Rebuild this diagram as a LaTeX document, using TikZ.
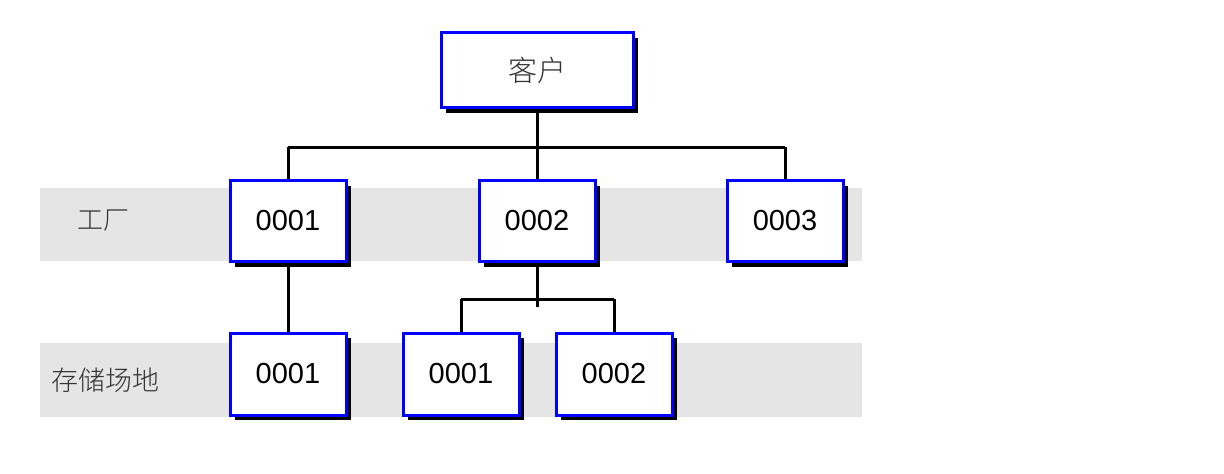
\documentclass[tikz,border=0pt]{standalone}
\usepackage{fontspec}
\setmainfont{Liberation Sans}
\newfontfamily\cjk{Noto Sans CJK SC Light}
\usetikzlibrary{shadows}
\begin{document}
\begin{tikzpicture}[x=1pt,y=-1pt,
  band/.style={fill=black!10,draw=none},
  conn/.style={line width=3pt,draw=black},
  ubox/.style={draw=blue,line width=3pt,fill=white,minimum width=116pt,minimum height=81pt,inner sep=0pt,
    font=\fontsize{29}{30}\selectfont,
    drop shadow={shadow xshift=5pt,shadow yshift=-5pt,opacity=1,fill=black}},
  lbl/.style={font=\cjk\fontsize{26}{28}\selectfont,text=black!80,inner sep=0pt}]
\useasboundingbox (0,0) rectangle (1224,474);
\fill[white] (0,0) rectangle (1224,474);
% bands
\path[band] (40,188) rectangle (862,261);
\path[band] (40,343) rectangle (862,417);
\node[lbl] (l1) at (103,221) {工厂};
\node[lbl,font=\cjk\fontsize{27}{28}\selectfont] (l2) at (105,380) {存储场地};
% coordinates
\coordinate (j0) at (537,147);
\coordinate (jl) at (288,147);
\coordinate (jr) at (785,147);
\coordinate (kt) at (537,307);
\coordinate (kl) at (461,299);
\coordinate (kr) at (614,299);
% node positions
\path (537,70) coordinate (pc) (288,221) coordinate (pa1) (537,221) coordinate (pa2) (785,221) coordinate (pa3)
  (288,374) coordinate (pb1) (461,374) coordinate (pb2) (614,374) coordinate (pb3);
% connectors
\draw[conn] (pc) -- (j0);
\draw[conn] (jl) -- (jr);
\draw[conn] (jl) -- (pa1);
\draw[conn] (j0) -- (pa2);
\draw[conn] (jr) -- (pa3);
\draw[conn] (pa1) -- (pb1);
\draw[conn] (pa2) -- (kt);
\draw[conn] (kl) -- (kr);
\draw[conn] (kl) -- (pb2);
\draw[conn] (kr) -- (pb3);
% boxes
\node[ubox,minimum width=192pt,minimum height=75pt,font=\cjk\fontsize{29}{30}\selectfont,text=black!80] (c) at (pc) {客户};
\node[ubox] (a1) at (pa1) {0001};
\node[ubox] (a2) at (pa2) {0002};
\node[ubox] (a3) at (pa3) {0003};
\node[ubox,minimum height=82pt] (b1) at (pb1) {0001};
\node[ubox,minimum height=82pt] (b2) at (pb2) {0001};
\node[ubox,minimum height=82pt] (b3) at (pb3) {0002};
\end{tikzpicture}
\end{document}
